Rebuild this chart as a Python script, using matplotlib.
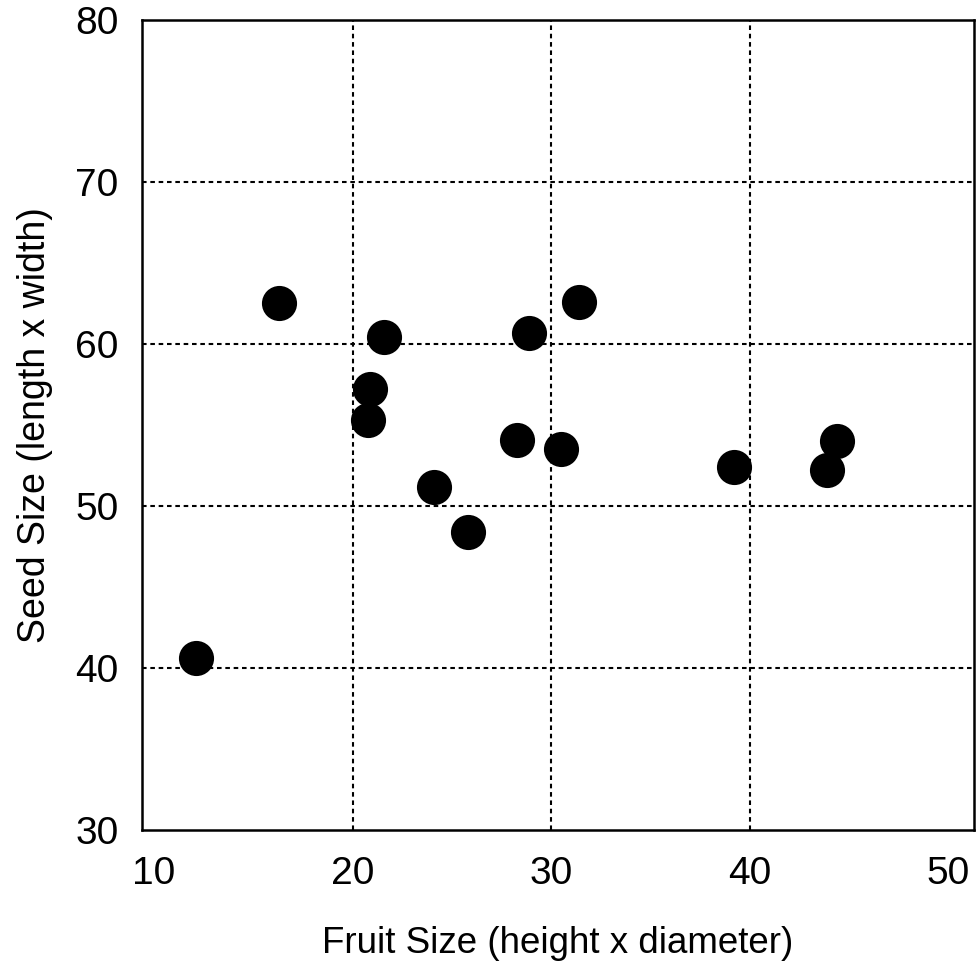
import matplotlib.pyplot as plt

# values
fruit_size = [12.1, 16.3, 21.6, 20.9, 20.8, 24.1, 25.8, 28.3, 28.9, 30.5, 31.4, 39.2, 43.9, 44.4]
seed_size = [40.6, 62.5, 60.4, 57.2, 55.3, 51.2, 48.4, 54.1, 60.7, 53.5, 62.6, 52.4, 52.2, 54.0]

x_ticks = [10, 20, 30, 40, 50]
y_ticks = [30, 40, 50, 60, 70, 80]

plt.rcParams['font.family'] = ['Liberation Sans', 'DejaVu Sans']

fig = plt.figure(figsize=(9.8, 9.61), dpi=100)
ax = fig.add_axes([0.145, 0.1363, 0.849, 0.843])

ax.scatter(fruit_size, seed_size, s=640, c='black', zorder=3, linewidths=0)

ax.set_xlim(9.4, 51.3)
ax.set_ylim(30, 80)
ax.set_xticks(x_ticks)
ax.set_yticks(y_ticks)
ax.tick_params(length=0, labelsize=28)
ax.tick_params(axis='x', pad=19)
ax.tick_params(axis='y', pad=17)

# dotted grid only on the inner ticks
grid_style = dict(color='black', linestyle=(0, (2.2, 1.8)), linewidth=1.5, zorder=1)
for xv in x_ticks[1:-1]:
    ax.axvline(xv, **grid_style)
for yv in y_ticks[1:-1]:
    ax.axhline(yv, **grid_style)

for s in ax.spines.values():
    s.set_linewidth(1.8)

ax.set_xlabel('Fruit Size (height x diameter)', fontsize=26.5, labelpad=24)
ax.set_ylabel('Seed Size (length x width)', fontsize=27, labelpad=16)

fig.savefig('out.png', dpi=100)
